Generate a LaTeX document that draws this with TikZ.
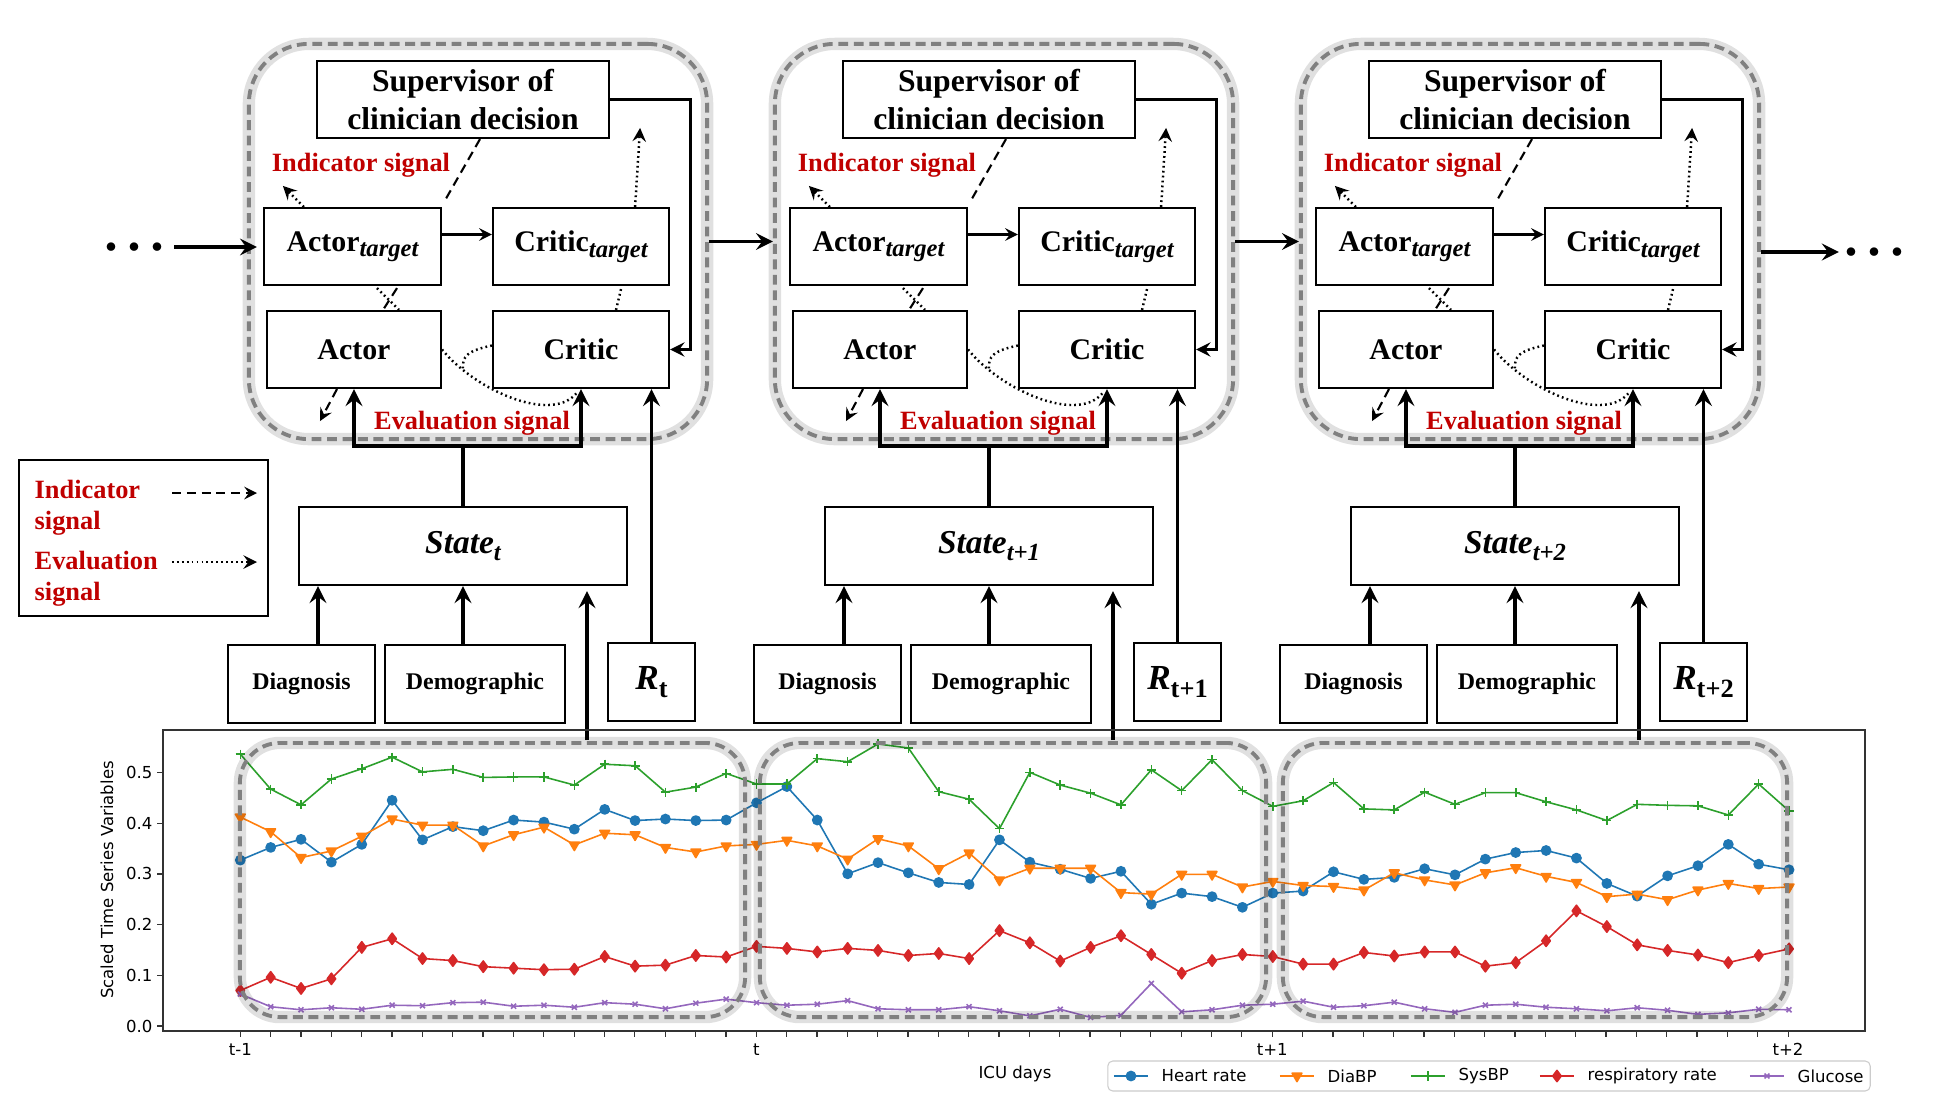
\documentclass[tikz,border=0pt]{standalone}
\usepackage{fontspec}
\setmainfont{Liberation Serif}
\newfontfamily\plotfont{DejaVu Sans}
\usetikzlibrary{arrows, plotmarks}
\definecolor{sigred}{RGB}{192,0,0}
\definecolor{hrblue}{RGB}{31,119,180}
\definecolor{dbporange}{RGB}{255,127,14}
\definecolor{sbpgreen}{RGB}{44,160,44}
\definecolor{rrred}{RGB}{214,39,40}
\definecolor{glupurple}{RGB}{148,103,189}
\newcommand{\lowsub}[1]{\raisebox{-0.4ex}{\fontsize{7}{7}\selectfont\bfseries\itshape #1}}

\tikzstyle{plainbox} = [rectangle, draw=black, line width=0.6pt, inner sep=0pt, align=center, font=\bfseries]
\tikzstyle{suptext} = [font=\fontsize{9}{11}\selectfont\bfseries]
\tikzstyle{nametext} = [font=\fontsize{8.5}{10}\selectfont\bfseries]
\tikzstyle{inputtext} = [font=\fontsize{6.8}{8}\selectfont\bfseries]
\tikzstyle{redtext} = [text=sigred, font=\fontsize{7.5}{8.8}\selectfont\bfseries, inner sep=0pt]
\tikzstyle{blockframe} = [rectangle, rounded corners=0.6cm, draw=gray, line width=1.1pt, dash pattern=on 2.8pt off 1.6pt, minimum width=4.58cm, minimum height=3.95cm, preaction={draw=black, draw opacity=0.12, line width=3.5pt, solid}]
\tikzstyle{window} = [rectangle, rounded corners=0.4cm, draw=gray, line width=1.1pt, dash pattern=on 2.8pt off 1.6pt, minimum height=2.74cm, preaction={draw=black, draw opacity=0.12, line width=3.5pt, solid}]
\tikzstyle{dots} = [inner sep=0pt, font=\fontsize{5.5}{6}\selectfont]
\tikzstyle{arrow} = [line width=0.6pt,->,>=stealth]
\tikzstyle{thickarrow} = [line width=1.1pt,->,>=stealth]
\tikzstyle{indicator} = [line width=0.6pt, dash pattern=on 2.6pt off 1.6pt, >=stealth]
\tikzstyle{evaluation} = [line width=0.7pt, dash pattern=on 0.5pt off 0.9pt, >=stealth]
\tikzstyle{plotaxis} = [draw=black!80, line width=0.35pt]
\tikzstyle{plotlabel} = [font=\plotfont\fontsize{4.7}{5.6}\selectfont, inner sep=0pt]
\tikzstyle{hrplot} = [color=hrblue, line width=0.45pt, line join=round, mark=*, mark size=1.3pt]
\tikzstyle{dbpplot} = [color=dbporange, line width=0.45pt, line join=round, mark=triangle*, mark size=1.6pt, mark options={rotate=180}]
\tikzstyle{sbpplot} = [color=sbpgreen, line width=0.45pt, line join=round, mark=+, mark size=1.3pt]
\tikzstyle{rrplot} = [color=rrred, line width=0.45pt, line join=round, mark=diamond*, mark size=1.6pt]
\tikzstyle{gluplot} = [color=glupurple, line width=0.45pt, line join=round, mark=x, mark size=1pt]

\begin{document}
\begin{tikzpicture}[x=0.01cm, y=-0.01cm]
\path[use as bounding box, fill=white] (0,0) rectangle (1956,1096);

%% BLOCKS t, t+1, t+2

\foreach \i/\dx/\tm in {1/0/t, 2/526/t+1, 3/1052/t+2} {
\begin{scope}[shift={(\dx,0)}]
\node (frame\i) [blockframe] at (478,241.5) {};
\node (sup\i) [plainbox, suptext, minimum width=2.92cm, minimum height=0.77cm] at (463,99.5) {Supervisor of\\clinician decision};
\node (at\i) [plainbox, nametext, minimum width=1.77cm, minimum height=0.77cm] at (352.5,246.5) {Actor\lowsub{target}};
\node (ct\i) [plainbox, nametext, minimum width=1.76cm, minimum height=0.77cm] at (581,246.5) {Critic\lowsub{target}};
\node (a\i) [plainbox, nametext, minimum width=1.74cm, minimum height=0.77cm] at (354,349.5) {Actor};
\node (c\i) [plainbox, nametext, minimum width=1.76cm, minimum height=0.77cm] at (581,349.5) {Critic};
\node (ind\i) [redtext] at (361,165) {Indicator signal};
\node (evl\i) [redtext] at (472,423) {Evaluation signal};
\node (state\i) [plainbox, font=\fontsize{9.5}{10}\selectfont\bfseries\itshape, minimum width=3.28cm, minimum height=0.78cm] at (463,546) {State\lowsub{\tm}};
\node (diag\i) [plainbox, inputtext, minimum width=1.47cm, minimum height=0.78cm] at (301.5,684) {Diagnosis};
\node (demo\i) [plainbox, inputtext, minimum width=1.80cm, minimum height=0.78cm] at (475,684) {Demographic};
\node (r\i) [plainbox, minimum width=0.87cm, minimum height=0.78cm] at (651.5,682) {{\fontsize{10}{10}\selectfont\bfseries\itshape R}\raisebox{-0.45ex}{\fontsize{7.5}{7.5}\selectfont\bfseries \tm}};
\coordinate (feed\i) at (587,740);

% inside the block
\draw [arrow] ([yshift=0.12cm]at\i.east) -- ([yshift=0.12cm]ct\i.west);
\draw [arrow, line width=0.8pt] (sup\i.east) -- ++(80,0) |- (c\i.east);
\draw [indicator] ([xshift=0.17cm]sup\i.south) -- ([xshift=0.02cm,yshift=0.05cm]at\i.north east);
\draw [evaluation, ->] ([xshift=0.41cm]at\i.north west) -- ++(-21,-21);
\draw [evaluation, ->] ([xshift=-0.35cm]ct\i.north east) -- ++(5,-79);
\draw [indicator] ([xshift=0.445cm,yshift=-0.02cm]at\i.south) -- ([xshift=0.29cm]a\i.north);
\draw [evaluation] ([xshift=0.245cm,yshift=-0.02cm]at\i.south) -- ([xshift=0.45cm]a\i.north);
\draw [evaluation] ([xshift=0.40cm,yshift=-0.03cm]ct\i.south) -- ([xshift=0.35cm]c\i.north);
\draw [evaluation] (a\i.east) .. controls +(34,42) and +(-23,34) .. ([xshift=-0.03cm,yshift=-0.02cm]c\i.south);
\draw [evaluation] ([yshift=0.04cm]c\i.west) .. controls +(-23,5) and +(-2,-15) .. ([xshift=0.21cm,yshift=-0.21cm]a\i.east);
\draw [indicator, ->] ([xshift=-0.17cm]a\i.south) -- ++(-17,32);

% inputs
\draw [thickarrow] (state\i.north) -- ++(0,-60) -| (a\i.south);
\draw [thickarrow] (state\i.north) -- ++(0,-60) -| (c\i.south);
\draw [thickarrow] (r\i.north) -- (r\i.north |- c\i.south);
\draw [thickarrow] ([xshift=0.165cm]diag\i.north) -- ([xshift=0.165cm]diag\i.north |- state\i.south);
\draw [thickarrow] (demo\i.north -| state\i.south) -- (state\i.south);
\draw [thickarrow] (feed\i) -- ([yshift=-0.05cm]feed\i |- state\i.south);
\end{scope}
}

\node (startdots) [dots] at (134,247) {$\bullet\,\bullet\,\bullet$};
\node (enddots) [dots] at (1874,252) {$\bullet\,\bullet\,\bullet$};
\draw [thickarrow] ([xshift=0.1cm]startdots.east) -- ([xshift=0.1cm]startdots.east -| frame1.west);
\draw [thickarrow] (frame1.east) -- (frame2.west);
\draw [thickarrow] (frame2.east) -- (frame3.west);
\draw [thickarrow] (frame3.east |- enddots) -- ([xshift=-0.05cm]enddots.west);

%% LEGEND

\node (legend) [plainbox, minimum width=2.49cm, minimum height=1.56cm] at (143.5,538) {};
\node (legind) [redtext, anchor=west, align=left] at (34,507.5) {Indicator\\signal};
\node (legeval) [redtext, anchor=west, align=left] at (34,579) {Evaluation\\signal};
\coordinate (lia) at (172,493);
\coordinate (lib) at (257,493);
\coordinate (lea) at (172,562);
\coordinate (leb) at (257,562);
\draw [indicator, ->] (lia) -- (lib);
\draw [evaluation, ->] (lea) -- (leb);

%% TIME SERIES

\draw [plotaxis] (163,730) rectangle (1865,1031);
\foreach \k in {0,...,51}
  \draw [plotaxis] ({240.3+30.35*\k},1031) -- ({240.3+30.35*\k},1037);
\foreach \v [count=\n] in {0.0,0.1,0.2,0.3,0.4,0.5} {
  \draw [plotaxis] (157,{1026-507*\v}) -- (163,{1026-507*\v});
  \node (yl\n) [plotlabel, anchor=east] at (153,{1026-507*\v}) {\v};
}
\node (xl1) [plotlabel, anchor=north] at (240.3,1043) {t-1};
\node (xl2) [plotlabel, anchor=north] at (756.3,1043) {t};
\node (xl3) [plotlabel, anchor=north] at (1272.2,1043) {t+1};
\node (xl4) [plotlabel, anchor=north] at (1788,1043) {t+2};
\node (xlab) [plotlabel] at (1015,1074) {ICU days};
\node (ylab) [plotlabel, rotate=90] at (107,880) {Scaled Time Series Variables};

\begin{scope}[shift={(240.3,1026)}, x=0.3035cm, y=5.07cm]
\draw [hrplot] plot coordinates {(0,.327) (1,.352) (2,.368) (3,.323) (4,.358) (5,.445) (6,.367) (7,.393) (8,.385) (9,.406) (10,.402) (11,.388) (12,.427) (13,.405) (14,.408) (15,.405) (16,.406) (17,.440) (18,.472) (19,.406) (20,.300) (21,.322) (22,.302) (23,.283) (24,.279) (25,.367) (26,.323) (27,.309) (28,.291) (29,.305) (30,.240) (31,.262) (32,.255) (33,.234) (34,.262) (35,.266) (36,.304) (37,.289) (38,.293) (39,.310) (40,.298) (41,.329) (42,.342) (43,.346) (44,.331) (45,.281) (46,.256) (47,.296) (48,.316) (49,.358) (50,.319) (51,.308)};
\draw [dbpplot] plot coordinates {(0,.412) (1,.383) (2,.332) (3,.345) (4,.374) (5,.408) (6,.396) (7,.396) (8,.355) (9,.377) (10,.392) (11,.357) (12,.380) (13,.377) (14,.352) (15,.343) (16,.355) (17,.358) (18,.366) (19,.355) (20,.329) (21,.369) (22,.355) (23,.310) (24,.341) (25,.288) (26,.311) (27,.311) (28,.311) (29,.263) (30,.260) (31,.299) (32,.299) (33,.274) (34,.285) (35,.277) (36,.275) (37,.268) (38,.302) (39,.288) (40,.278) (41,.302) (42,.312) (43,.295) (44,.283) (45,.255) (46,.260) (47,.249) (48,.268) (49,.281) (50,.271) (51,.274)};
\draw [sbpplot] plot coordinates {(0,.536) (1,.467) (2,.436) (3,.487) (4,.507) (5,.530) (6,.501) (7,.506) (8,.490) (9,.491) (10,.491) (11,.475) (12,.516) (13,.513) (14,.461) (15,.471) (16,.498) (17,.477) (18,.477) (19,.527) (20,.521) (21,.556) (22,.548) (23,.462) (24,.447) (25,.389) (26,.500) (27,.475) (28,.459) (29,.436) (30,.505) (31,.464) (32,.525) (33,.464) (34,.433) (35,.444) (36,.480) (37,.428) (38,.426) (39,.461) (40,.437) (41,.460) (42,.460) (43,.442) (44,.426) (45,.405) (46,.437) (47,.435) (48,.434) (49,.416) (50,.477) (51,.424)};
\draw [rrplot] plot coordinates {(0,.070) (1,.096) (2,.074) (3,.093) (4,.155) (5,.172) (6,.133) (7,.129) (8,.117) (9,.114) (10,.111) (11,.112) (12,.137) (13,.118) (14,.120) (15,.139) (16,.136) (17,.157) (18,.153) (19,.146) (20,.153) (21,.149) (22,.139) (23,.143) (24,.133) (25,.188) (26,.164) (27,.128) (28,.155) (29,.178) (30,.141) (31,.104) (32,.129) (33,.141) (34,.137) (35,.122) (36,.122) (37,.145) (38,.138) (39,.146) (40,.146) (41,.118) (42,.125) (43,.168) (44,.227) (45,.196) (46,.160) (47,.149) (48,.140) (49,.125) (50,.139) (51,.152)};
\draw [gluplot] plot coordinates {(0,.063) (1,.038) (2,.032) (3,.036) (4,.033) (5,.041) (6,.040) (7,.046) (8,.047) (9,.039) (10,.041) (11,.037) (12,.046) (13,.043) (14,.034) (15,.045) (16,.053) (17,.046) (18,.041) (19,.043) (20,.050) (21,.034) (22,.032) (23,.032) (24,.038) (25,.030) (26,.020) (27,.033) (28,.017) (29,.021) (30,.084) (31,.028) (32,.032) (33,.041) (34,.043) (35,.049) (36,.037) (37,.040) (38,.047) (39,.034) (40,.027) (41,.041) (42,.043) (43,.037) (44,.034) (45,.030) (46,.036) (47,.031) (48,.023) (49,.026) (50,.033) (51,.032)};
\end{scope}

\node (win1) [window, minimum width=5.05cm] at (492.5,880) {};
\node (win2) [window, minimum width=5.06cm] at (1013,880) {};
\node (win3) [window, minimum width=5.04cm] at (1535,880) {};

% plot legend
\node (plotlegend) [draw=black!20, rounded corners=0.05cm, line width=0.3pt, minimum width=7.62cm, minimum height=0.30cm] at (1489,1076) {};
\node (lg1) [plotlabel, anchor=west] at (1161,1076) {Heart rate};
\node (lg2) [plotlabel, anchor=west] at (1327,1076) {DiaBP};
\node (lg3) [plotlabel, anchor=west] at (1458,1076) {SysBP};
\node (lg4) [plotlabel, anchor=west] at (1587,1076) {respiratory rate};
\node (lg5) [plotlabel, anchor=west] at (1797,1076) {Glucose};
\draw [hrplot, mark indices={2}] plot coordinates {([xshift=-0.47cm]lg1.west) ([xshift=-0.30cm]lg1.west) ([xshift=-0.13cm]lg1.west)};
\draw [dbpplot, mark indices={2}] plot coordinates {([xshift=-0.47cm]lg2.west) ([xshift=-0.30cm]lg2.west) ([xshift=-0.13cm]lg2.west)};
\draw [sbpplot, mark indices={2}] plot coordinates {([xshift=-0.47cm]lg3.west) ([xshift=-0.30cm]lg3.west) ([xshift=-0.13cm]lg3.west)};
\draw [rrplot, mark indices={2}] plot coordinates {([xshift=-0.47cm]lg4.west) ([xshift=-0.30cm]lg4.west) ([xshift=-0.13cm]lg4.west)};
\draw [gluplot, mark indices={2}] plot coordinates {([xshift=-0.47cm]lg5.west) ([xshift=-0.30cm]lg5.west) ([xshift=-0.13cm]lg5.west)};

\end{tikzpicture}
\end{document}
